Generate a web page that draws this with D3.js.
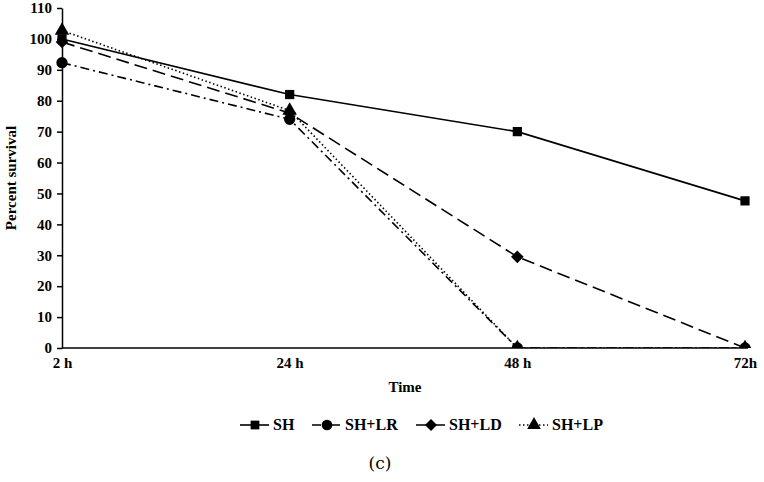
<!DOCTYPE html>
<html><head><meta charset="utf-8">
<script src="https://cdn.jsdelivr.net/npm/d3@7"></script>
<style>body{margin:0;background:#fff}svg{display:block}</style>
</head><body><svg id="c" width="764" height="482"></svg>
<script>
const times = ["2 h", "24 h", "48 h", "72h"];
const yTicks = [0,10,20,30,40,50,60,70,80,90,100,110];
const seriesNames = ["SH", "SH+LR", "SH+LD", "SH+LP"];
const valSH = [100, 82, 70, 47.6];
const valLR = [92.3, 74, 0, 0];
const valLD = [99, 76, 29.5, 0];
const valLP = [102.7, 76.8, 0, 0];
const values = [valSH, valLR, valLD, valLP];
const dashes = [null, "9,4,2,4", "13,6", "1.5,2.5"];
const squareDiamond = {
  draw(ctx, size) {
    const r = Math.sqrt(size / 2);
    ctx.moveTo(0, -r); ctx.lineTo(r, 0); ctx.lineTo(0, r); ctx.lineTo(-r, 0); ctx.closePath();
  }
};
const symbols = [d3.symbolSquare, d3.symbolCircle, squareDiamond, d3.symbolTriangle];
const symSizes = [85, 100, 80, 90];

const svg = d3.select("#c");
const m = {l: 62, r: 745, t: 8, b: 348};
const x = d3.scalePoint().domain(times).range([m.l, m.r]);
const y = d3.scaleLinear().domain([0, 110]).range([m.b, m.t]);
const font = "'Liberation Serif','Times New Roman',serif";

svg.append("defs").append("clipPath").attr("id","pc")
  .append("rect").attr("x", m.l-10).attr("y", 0).attr("width", m.r - m.l + 25).attr("height", m.b);

// axes
const ya = svg.append("g").attr("transform", `translate(${m.l},0)`)
  .call(d3.axisLeft(y).tickValues(yTicks).tickSize(5).tickSizeOuter(0).tickPadding(5));
ya.select(".domain").attr("stroke", "#000").attr("stroke-width", 1.5);
ya.selectAll(".tick line").attr("stroke-width", 1.5);
ya.selectAll("text").attr("font-family", font).attr("font-weight", "bold").attr("font-size", 15).attr("fill","#000");

const xa = svg.append("g").attr("transform", `translate(0,${m.b})`)
  .call(d3.axisBottom(x).tickSize(0).tickPadding(9));
xa.select(".domain").attr("stroke", "#000").attr("stroke-width", 1.5).attr("d", `M${m.l},0H${m.r+3}`);
xa.selectAll("text").attr("font-family", font).attr("font-weight", "bold").attr("font-size", 15).attr("fill","#000");

svg.append("text").attr("x", 405).attr("y", 392).attr("text-anchor","middle")
  .attr("font-family", font).attr("font-weight","bold").attr("font-size", 15).text("Time");
svg.append("text").attr("transform","translate(16,178) rotate(-90)").attr("text-anchor","middle")
  .attr("font-family", font).attr("font-weight","bold").attr("font-size", 15).text("Percent survival");

// series
const line = d3.line().x((d,i) => x(times[i])).y(d => y(d));
const plot = svg.append("g").attr("clip-path","url(#pc)");
values.forEach((vals, s) => {
  plot.append("path").attr("d", line(vals)).attr("fill","none").attr("stroke","#000")
    .attr("stroke-width", 1.6).attr("stroke-dasharray", dashes[s]);
});
values.forEach((vals, s) => {
  plot.selectAll(null).data(vals).enter().append("path")
    .attr("transform", (d,i) => `translate(${x(times[i])},${y(d)})`)
    .attr("d", d3.symbol().type(symbols[s]).size(symSizes[s])).attr("fill","#000");
});

// legend
const legX = [240, 312, 416, 519];
const leg = svg.append("g").attr("transform","translate(0,425)");
seriesNames.forEach((n, s) => {
  const g = leg.append("g").attr("transform", `translate(${legX[s]},0)`);
  g.append("line").attr("x1",0).attr("x2",29).attr("y1",0).attr("y2",0)
    .attr("stroke","#000").attr("stroke-width",1.6).attr("stroke-dasharray", dashes[s]);
  g.append("path").attr("transform","translate(15,0)")
    .attr("d", d3.symbol().type(symbols[s]).size(symSizes[s]*0.9)).attr("fill","#000");
  g.append("text").attr("x", 33).attr("y", 5).attr("font-family", font).attr("font-weight","bold")
    .attr("font-size", 16).text(n);
});

svg.append("text").attr("x", 380).attr("y", 469).attr("text-anchor","middle")
  .attr("font-family", "'DejaVu Serif','Liberation Serif',serif").attr("font-size", 17).text("(c)");
</script></body></html>
